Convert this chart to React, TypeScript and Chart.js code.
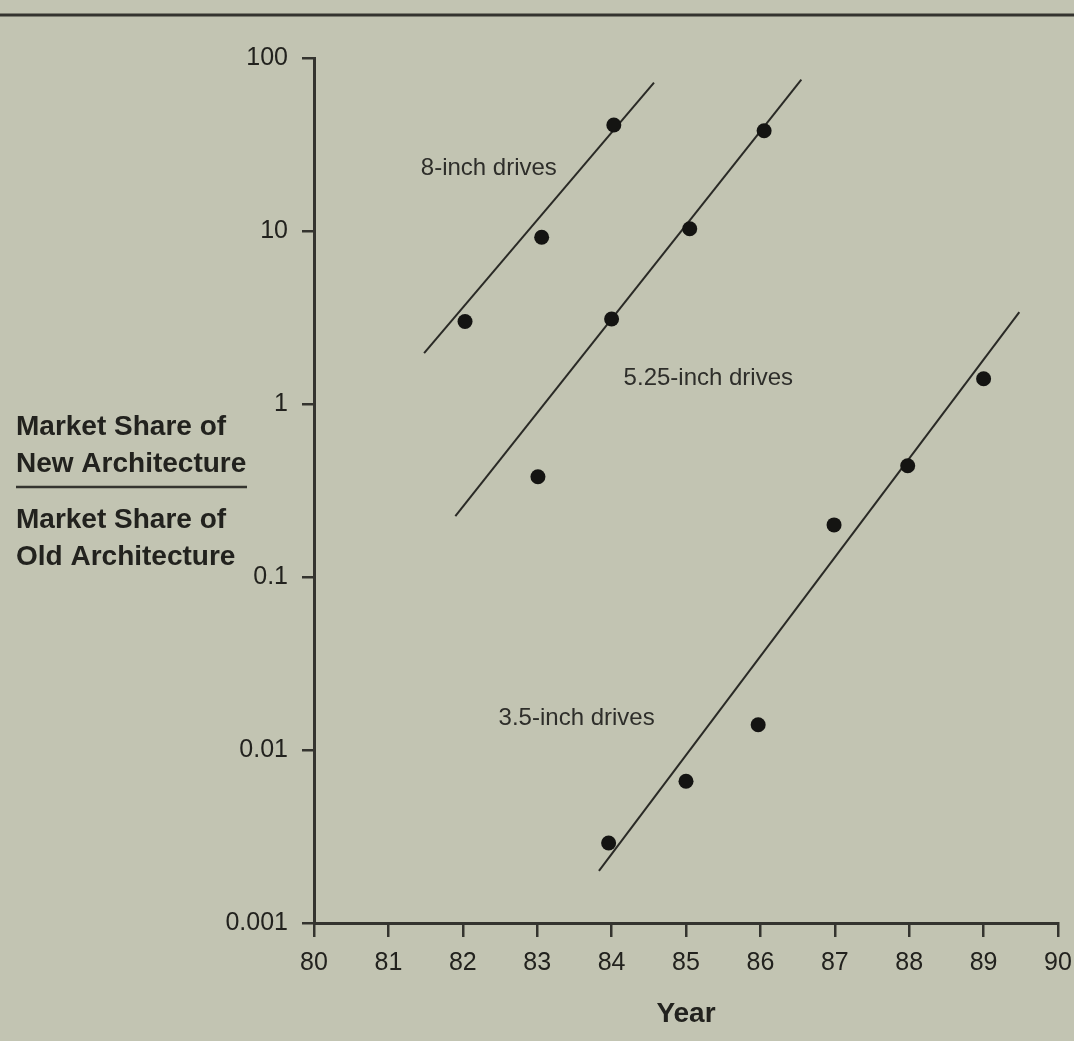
import React, { useEffect, useRef } from "react";
import { Chart, registerables } from "chart.js";

Chart.register(...registerables);

// ---- Axis ticks ----
const X_MIN = 80;
const X_MAX = 90;
const Y_TICKS = [0.001, 0.01, 0.1, 1, 10, 100];
const Y_TICK_LABELS = ["0.001", "0.01", "0.1", "1", "10", "100"];

// ---- Observed points (year, ratio of market shares) ----
const YEARS_8 = [82.03, 83.06, 84.03];
const SHARE_8 = [3.0, 9.2, 41];
const YEARS_525 = [83.01, 84.0, 85.05, 86.05];
const SHARE_525 = [0.38, 3.1, 10.3, 38];
const YEARS_35 = [83.96, 85.0, 85.97, 86.99, 87.98, 89.0];
const SHARE_35 = [0.0029, 0.0066, 0.014, 0.2, 0.44, 1.4];

// ---- Fitted trend lines (end points) ----
const FIT_8_YEARS = [81.48, 84.57];
const FIT_8_SHARE = [1.97, 72];
const FIT_525_YEARS = [81.9, 86.55];
const FIT_525_SHARE = [0.225, 75];
const FIT_35_YEARS = [83.83, 89.48];
const FIT_35_SHARE = [0.002, 3.4];

// ---- Series labels and where they sit (data coordinates) ----
const SERIES_LABELS = ["8-inch drives", "5.25-inch drives", "3.5-inch drives"];
const LABEL_YEARS = [82.35, 85.3, 83.53];
const LABEL_SHARES = [23, 1.4, 0.0153];

// ---- Titles ----
const Y_TITLE_TOP = ["Market Share of", "New Architecture"];
const Y_TITLE_BOTTOM = ["Market Share of", "Old Architecture"];
const X_TITLE = "Year";

const BG = "rgb(194,196,178)";
const INK = "#22221e";
const AXIS_INK = "#34342f";
const FONT = "'Liberation Sans', Arial, Helvetica, sans-serif";

const zip = (xs: number[], ys: number[]) => xs.map((x, i) => ({ x, y: ys[i] }));

const decorPlugin = {
  id: "decor",
  beforeDraw(chart: any) {
    const { ctx, width, height } = chart;
    ctx.save();
    ctx.fillStyle = BG;
    ctx.fillRect(0, 0, width, height);
    // top rule of the page
    ctx.strokeStyle = AXIS_INK;
    ctx.lineWidth = 3;
    ctx.beginPath();
    ctx.moveTo(0, 15);
    ctx.lineTo(width, 15);
    ctx.stroke();
    ctx.restore();
  },
  afterDraw(chart: any) {
    const { ctx, scales } = chart;
    ctx.save();
    ctx.fillStyle = INK;
    // y title as a fraction
    ctx.font = `bold 28px ${FONT}`;
    ctx.textAlign = "left";
    ctx.textBaseline = "alphabetic";
    ctx.fillText(Y_TITLE_TOP[0], 16, 435);
    ctx.fillText(Y_TITLE_TOP[1], 16, 472);
    ctx.fillText(Y_TITLE_BOTTOM[0], 16, 528);
    ctx.fillText(Y_TITLE_BOTTOM[1], 16, 565);
    ctx.strokeStyle = AXIS_INK;
    ctx.lineWidth = 2.5;
    ctx.beginPath();
    ctx.moveTo(16, 487);
    ctx.lineTo(247, 487);
    ctx.stroke();
    // series labels
    ctx.font = `24px ${FONT}`;
    ctx.fillStyle = "#2e2e2a";
    ctx.textAlign = "center";
    ctx.textBaseline = "middle";
    SERIES_LABELS.forEach((t, i) => {
      const px = scales.x.getPixelForValue(LABEL_YEARS[i]);
      const py = scales.y.getPixelForValue(LABEL_SHARES[i]);
      ctx.fillText(t, px, py);
    });
    ctx.restore();
  },
};

export default function App() {
  const ref = useRef<HTMLCanvasElement | null>(null);

  useEffect(() => {
    document.body.style.margin = "0";
    const canvas = ref.current;
    if (!canvas) return;

    const dot = (data: { x: number; y: number }[]) => ({
      data,
      showLine: false,
      pointRadius: 7.5,
      pointHoverRadius: 7.5,
      pointBackgroundColor: "#141412",
      pointBorderWidth: 0,
      order: 0,
    });
    const fit = (data: { x: number; y: number }[]) => ({
      data,
      showLine: true,
      pointRadius: 0,
      borderColor: "#2a2a26",
      borderWidth: 2,
      fill: false,
      order: 1,
    });

    const chart = new Chart(canvas, {
      type: "scatter",
      data: {
        datasets: [
          dot(zip(YEARS_8, SHARE_8)),
          dot(zip(YEARS_525, SHARE_525)),
          dot(zip(YEARS_35, SHARE_35)),
          fit(zip(FIT_8_YEARS, FIT_8_SHARE)),
          fit(zip(FIT_525_YEARS, FIT_525_SHARE)),
          fit(zip(FIT_35_YEARS, FIT_35_SHARE)),
        ] as any,
      },
      options: {
        animation: false,
        responsive: false,
        layout: { padding: { left: 0, top: 58, right: 16, bottom: 0 } },
        plugins: { legend: { display: false }, tooltip: { enabled: false } },
        scales: {
          x: {
            type: "linear",
            min: X_MIN,
            max: X_MAX,
            afterFit: (s: any) => {
              s.height = 118;
              s.paddingLeft = 0;
              s.paddingRight = 0;
            },
            ticks: {
              stepSize: 1,
              autoSkip: false,
              maxRotation: 0,
              padding: 11,
              color: INK,
              font: { family: FONT, size: 25 },
            },
            grid: {
              drawOnChartArea: false,
              drawTicks: true,
              tickLength: 14,
              color: AXIS_INK,
              lineWidth: 2.5,
            },
            border: { display: true, color: AXIS_INK, width: 3 },
            title: {
              display: true,
              text: X_TITLE,
              color: INK,
              font: { family: FONT, size: 28, weight: "bold" },
              padding: { top: 0, bottom: 10 },
            },
          },
          y: {
            type: "logarithmic",
            min: 0.001,
            max: 100,
            afterFit: (s: any) => {
              s.width = 314;
              s.paddingTop = 0;
              s.paddingBottom = 0;
            },
            afterBuildTicks: (s: any) => {
              s.ticks = Y_TICKS.map((v) => ({ value: v, major: true }));
            },
            ticks: {
              autoSkip: false,
              padding: 14,
              color: INK,
              font: { family: FONT, size: 25 },
              callback: (v: any) => {
                const i = Y_TICKS.findIndex((t) => Math.abs(t - Number(v)) / t < 1e-6);
                return i >= 0 ? Y_TICK_LABELS[i] : "";
              },
            },
            grid: {
              drawOnChartArea: false,
              drawTicks: true,
              tickLength: 12,
              color: AXIS_INK,
              lineWidth: 2.5,
            },
            border: { display: true, color: AXIS_INK, width: 3 },
          },
        },
      },
      plugins: [decorPlugin],
    } as any);

    return () => chart.destroy();
  }, []);

  return (
    <div style={{ position: "fixed", left: 0, top: 0, width: 1074, height: 1041, background: BG }}>
      <canvas ref={ref} width={1074} height={1041} style={{ display: "block", width: 1074, height: 1041 }} />
    </div>
  );
}
